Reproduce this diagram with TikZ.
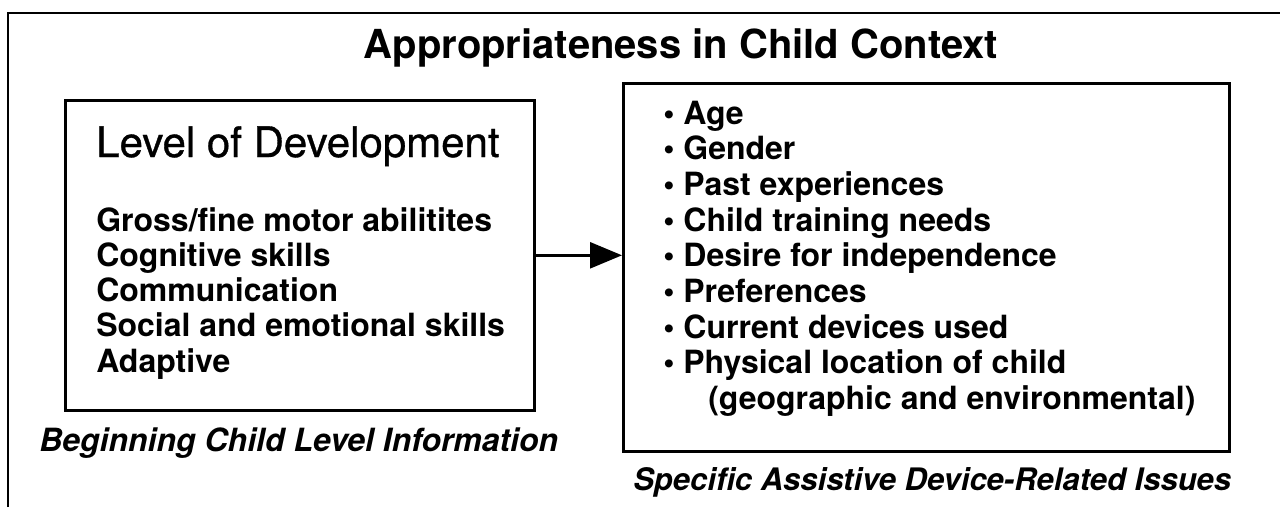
\documentclass[tikz,border=0pt]{standalone}
\usepackage{fontspec}
\setmainfont{TeX Gyre Heros}
\newfontfamily\medfont[FakeBold=0.8]{TeX Gyre Heros}
\usetikzlibrary{arrows.meta}
\begin{document}
\begin{tikzpicture}[x=1pt,y=-1pt,line width=2.6pt,
  box/.style={draw,anchor=north west,inner sep=0pt},
  item/.style={anchor=base west,inner sep=0pt,font=\fontsize{32}{36}\selectfont\bfseries},
  captext/.style={anchor=base west,inner sep=0pt,font=\fontsize{32}{36}\selectfont\bfseries\itshape}]
\useasboundingbox (0,0) rectangle (1280,507);
\draw (8,507) -- (8,13) -- (1280,13);
\node[anchor=base,inner sep=0pt,font=\fontsize{40}{44}\selectfont\bfseries] (title) at (681,58) {Appropriateness in Child Context};
\node[box,minimum width=469,minimum height=310] (lbox) at (64,99) {};
\node[box,minimum width=606,minimum height=368] (rbox) at (622,82) {};
\node[anchor=base west,inner sep=0pt,font=\fontsize{42}{46}\selectfont\medfont] (lod) at (95,157) {Level of Development};
\foreach \t [count=\i] in {Gross/fine motor abilitites,Cognitive skills,Communication,Social and emotional skills,Adaptive}
  \node[item] (l\i) at (95,{231+35.3*(\i-1)}) {\t};
\foreach \t [count=\i] in {Age,Gender,Past experiences,Child training needs,Desire for independence,Preferences,Current devices used,Physical location of child}
  \node[item] (r\i) at (662,{124+35.7*(\i-1)}) {\textbullet\ \t};
\node[item] (r9) at (707,{124+35.7*8}) {(geographic and environmental)};
\node[captext] (capl) at (38,451) {Beginning Child Level Information};
\node[captext,font=\fontsize{31}{35}\selectfont\bfseries\itshape] (capr) at (632,490) {Specific Assistive Device-Related Issues};
\draw[-{Triangle[length=32pt,width=26pt]}] (lbox.east) -- (rbox.west |- lbox.east);
\end{tikzpicture}
\end{document}
